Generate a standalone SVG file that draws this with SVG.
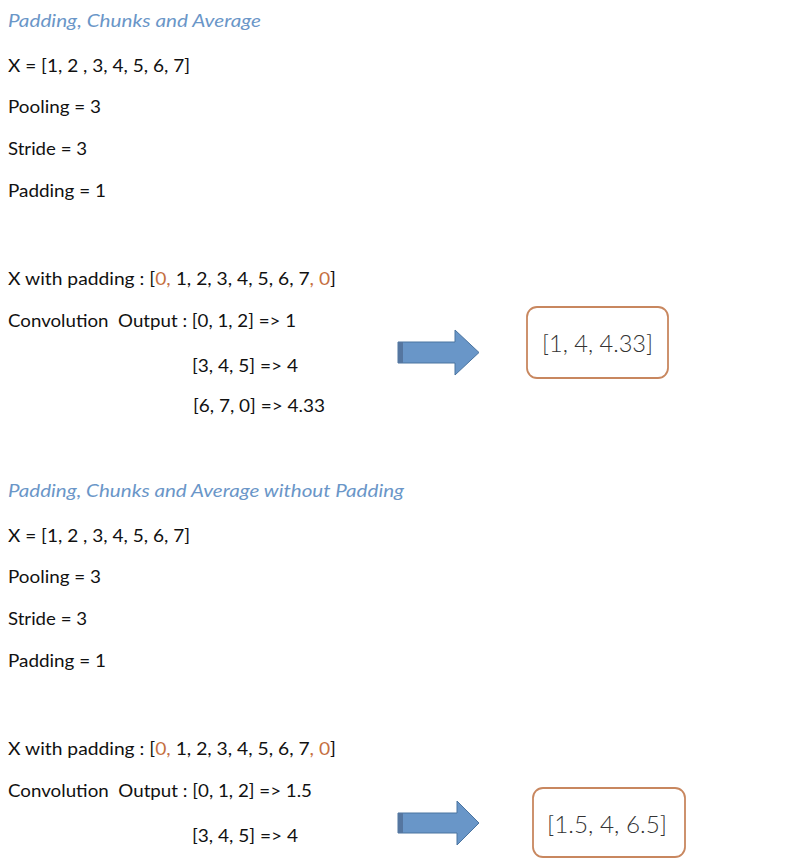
<svg xmlns="http://www.w3.org/2000/svg" width="800" height="862" viewBox="0 0 800 862">
<style>
.t{font-family:Lato,"Open Sans","Liberation Sans",sans-serif;font-size:18px;fill:#111111}
.h{font-family:Lato,"Open Sans","Liberation Sans",sans-serif;font-size:18px;font-style:italic;fill:#6a96c8}
.o{fill:#c5703f}
.res{font-family:Lato,"Open Sans","Liberation Sans",sans-serif;font-size:24px;font-weight:300;fill:#333333}
.box{fill:#ffffff;stroke:#c8875f;stroke-width:1.8}
.arr{fill:#6996c8;stroke:#4a74a0;stroke-width:1}
.cap{fill:#5576a0}
</style>
<rect width="800" height="862" fill="#ffffff"/>
<g id="section1">
<text class="h" x="8" y="27" textLength="253" lengthAdjust="spacingAndGlyphs">Padding, Chunks and Average</text>
<text class="t" x="8" y="72" textLength="182" lengthAdjust="spacingAndGlyphs">X = [1, 2 , 3, 4, 5, 6, 7]</text>
<text class="t" x="8" y="113" textLength="93" lengthAdjust="spacingAndGlyphs">Pooling = 3</text>
<text class="t" x="8" y="155" textLength="79" lengthAdjust="spacingAndGlyphs">Stride = 3</text>
<text class="t" x="8" y="197" textLength="98" lengthAdjust="spacingAndGlyphs">Padding = 1</text>
<text class="t" x="8" y="285" textLength="328" lengthAdjust="spacingAndGlyphs">X with padding : [<tspan class="o">0,</tspan> 1, 2, 3, 4, 5, 6, 7<tspan class="o">, 0</tspan>]</text>
<text class="t" x="8" y="327" textLength="288" lengthAdjust="spacingAndGlyphs" xml:space="preserve">Convolution  Output : [0, 1, 2] =&gt; 1</text>
<text class="t" x="192" y="372" textLength="106" lengthAdjust="spacingAndGlyphs">[3, 4, 5] =&gt; 4</text>
<text class="t" x="193" y="412" textLength="132" lengthAdjust="spacingAndGlyphs">[6, 7, 0] =&gt; 4.33</text>
</g>
<g id="connectors">
<g id="arrow1">
<polygon class="arr" points="398,342 455,342 455,330 479,352.5 455,375 455,363 398,363"/>
<rect class="cap" x="398" y="342" width="5" height="21"/>
</g>
<g id="arrow2">
<polygon class="arr" points="398,813 457,813 457,801 479,823 457,845 457,833 398,833"/>
<rect class="cap" x="398" y="813" width="5" height="20"/>
</g>
</g>
<g id="result1">
<rect class="box" x="527" y="307" width="141" height="71" rx="10"/>
<text class="res" x="542" y="352" textLength="111" lengthAdjust="spacingAndGlyphs">[1, 4, 4.33]</text>
</g>
<g id="section2">
<text class="h" x="8" y="497" textLength="396" lengthAdjust="spacingAndGlyphs">Padding, Chunks and Average without Padding</text>
<text class="t" x="8" y="542" textLength="182" lengthAdjust="spacingAndGlyphs">X = [1, 2 , 3, 4, 5, 6, 7]</text>
<text class="t" x="8" y="583" textLength="93" lengthAdjust="spacingAndGlyphs">Pooling = 3</text>
<text class="t" x="8" y="625" textLength="79" lengthAdjust="spacingAndGlyphs">Stride = 3</text>
<text class="t" x="8" y="667" textLength="98" lengthAdjust="spacingAndGlyphs">Padding = 1</text>
<text class="t" x="8" y="755" textLength="328" lengthAdjust="spacingAndGlyphs">X with padding : [<tspan class="o">0,</tspan> 1, 2, 3, 4, 5, 6, 7<tspan class="o">, 0</tspan>]</text>
<text class="t" x="8" y="797" textLength="304" lengthAdjust="spacingAndGlyphs" xml:space="preserve">Convolution  Output : [0, 1, 2] =&gt; 1.5</text>
<text class="t" x="192" y="842" textLength="106" lengthAdjust="spacingAndGlyphs">[3, 4, 5] =&gt; 4</text>
</g>
<g id="result2">
<rect class="box" x="533" y="788" width="152" height="69" rx="10"/>
<text class="res" x="547" y="833" textLength="120" lengthAdjust="spacingAndGlyphs">[1.5, 4, 6.5]</text>
</g>
</svg>
